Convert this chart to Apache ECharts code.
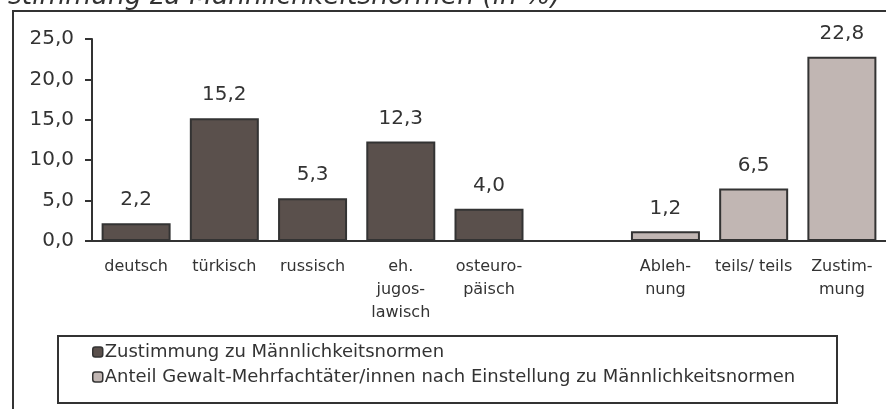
<!DOCTYPE html>
<html>
<head>
<meta charset="utf-8">
<script src="https://cdn.jsdelivr.net/npm/echarts@6/dist/echarts.min.js"></script>
<style>
  html, body { margin: 0; padding: 0; background: #fff; }
  #chart { width: 886px; height: 409px; }
</style>
</head>
<body>
<div id="chart"></div>
<script>
// Kategorien (leere Spalte trennt die beiden Gruppen)
var categories = ['deutsch', 'türkisch', 'russisch', 'eh.\njugos-\nlawisch', 'osteuro-\npäisch', '',
    'Ableh-\nnung', 'teils/ teils', 'Zustim-\nmung'];
var normValues = [2.2, 15.2, 5.3, 12.3, 4.0, null, null, null, null];
var gewaltValues = [null, null, null, null, null, null, 1.2, 6.5, 22.8];
var seriesNames = ['Zustimmung zu Männlichkeitsnormen',
    'Anteil Gewalt-Mehrfachtäter/innen nach Einstellung zu Männlichkeitsnormen'];
var titleText = 'stimmung zu Männlichkeitsnormen (in %)';

var darkColor = '#5a504c';
var lightColor = '#c1b6b3';
var lineColor = '#333';
var font = 'DejaVu Sans, Verdana, sans-serif';

function komma(v) {
    return Number(v).toFixed(1).replace('.', ',');
}

var option = {
    animation: false,
    backgroundColor: '#fff',
    graphic: [
        {
            type: 'rect',
            shape: { x: 13, y: 11, width: 1000, height: 1000 },
            style: { fill: 'none', stroke: lineColor, lineWidth: 2 },
            silent: true
        },
        {
            type: 'rect',
            shape: { x: 58, y: 336, width: 779, height: 67 },
            style: { fill: 'none', stroke: lineColor, lineWidth: 2 },
            silent: true
        },
        {
            type: 'text',
            x: 8,
            y: 11,
            style: {
                text: titleText,
                font: 'italic 26.5px DejaVu Sans, Verdana, sans-serif',
                fill: lineColor,
                verticalAlign: 'bottom'
            },
            silent: true
        }
    ],
    legend: {
        orient: 'vertical',
        left: 92,
        top: 343,
        itemWidth: 10,
        itemHeight: 10,
        itemGap: 7,
        padding: 0,
        data: seriesNames,
        itemStyle: { borderWidth: 1.5 },
        textStyle: {
            color: lineColor,
            fontSize: 18,
            fontFamily: font,
            padding: [0, 0, 0, -3]
        }
    },
    grid: {
        left: 92,
        top: 39,
        width: 797,
        height: 202
    },
    xAxis: {
        type: 'category',
        data: categories,
        axisLine: { lineStyle: { color: lineColor, width: 2 } },
        axisTick: { length: 6, lineStyle: { color: lineColor, width: 2 } },
        axisLabel: {
            interval: 0,
            color: lineColor,
            fontSize: 16,
            fontFamily: font,
            lineHeight: 23,
            margin: 14
        }
    },
    yAxis: {
        type: 'value',
        min: 0,
        max: 25,
        interval: 5,
        splitLine: { show: false },
        axisLine: { show: true, lineStyle: { color: lineColor, width: 2 } },
        axisTick: { show: true, length: 7, lineStyle: { color: lineColor, width: 2 } },
        axisLabel: {
            color: lineColor,
            fontSize: 20,
            fontFamily: font,
            margin: 18,
            formatter: komma
        }
    },
    series: [
        {
            name: seriesNames[0],
            type: 'bar',
            data: normValues,
            barWidth: 69,
            barGap: '-100%',
            itemStyle: { color: darkColor, borderColor: lineColor, borderWidth: 2 },
            label: {
                show: true,
                position: 'top',
                distance: 13,
                color: lineColor,
                fontSize: 20,
                fontFamily: font,
                formatter: function (p) { return komma(p.value); }
            }
        },
        {
            name: seriesNames[1],
            type: 'bar',
            data: gewaltValues,
            barWidth: 69,
            barGap: '-100%',
            itemStyle: { color: lightColor, borderColor: lineColor, borderWidth: 2 },
            label: {
                show: true,
                position: 'top',
                distance: 13,
                color: lineColor,
                fontSize: 20,
                fontFamily: font,
                formatter: function (p) { return komma(p.value); }
            }
        }
    ]
};

var chart = echarts.init(document.getElementById('chart'));
chart.setOption(option);
</script>
</body>
</html>
